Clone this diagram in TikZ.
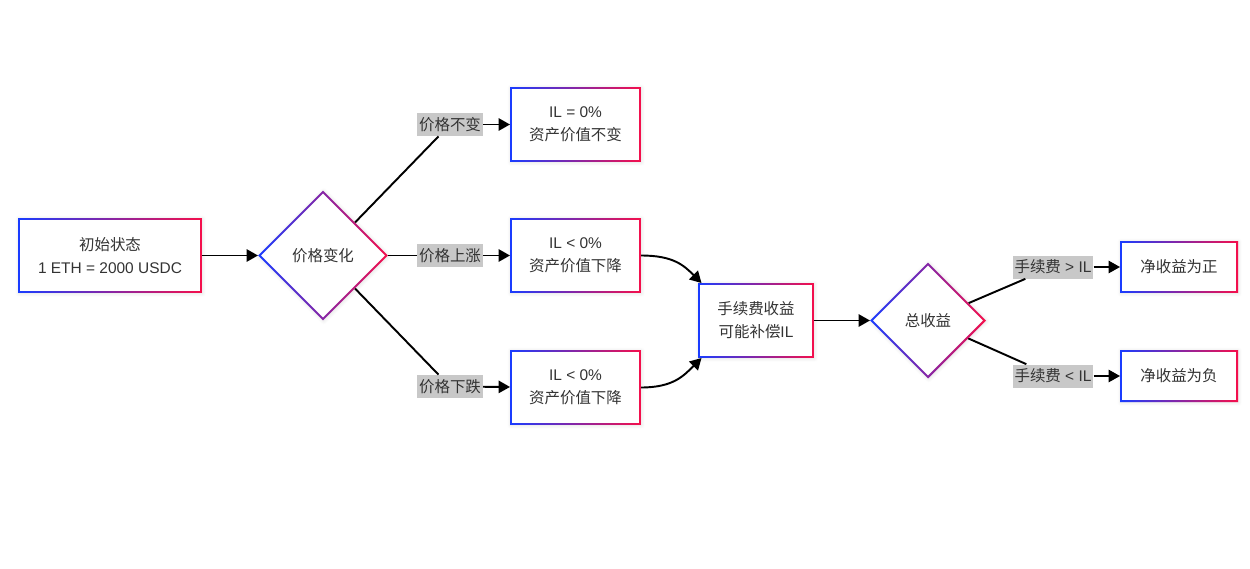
\documentclass[tikz,border=0pt]{standalone}
\usepackage{fontspec}
\setmainfont{Liberation Sans}
\newfontfamily\cjk{Noto Sans CJK SC}
\usepackage{tikz}
\usetikzlibrary{arrows.meta, positioning, shapes.geometric, shadows.blur}

\definecolor{gblue}{RGB}{25,60,255}
\definecolor{gred}{RGB}{245,15,75}
\definecolor{txt}{RGB}{51,51,51}
\definecolor{lblgray}{RGB}{200,200,200}

% gradient borders (blue left, red right)
\newcommand{\gradbox}[1]{%
  \shade[even odd rule, left color=gblue, right color=gred]
    (#1.south west) rectangle (#1.north east)
    ([shift={(1.1pt,1.1pt)}]#1.south west) rectangle ([shift={(-1.1pt,-1.1pt)}]#1.north east);}
\newcommand{\graddiamond}[1]{%
  \shade[even odd rule, left color=gblue, right color=gred]
    (#1.west) -- (#1.north) -- (#1.east) -- (#1.south) -- cycle
    ([xshift=1.6pt]#1.west) -- ([yshift=-1.6pt]#1.north) -- ([xshift=-1.6pt]#1.east) -- ([yshift=1.6pt]#1.south) -- cycle;}

\begin{document}
\begin{tikzpicture}[
    x=0.02cm, y=-0.02cm,
    every node/.style={font=\fontsize{8.8pt}{13pt}\selectfont, text=txt},
    box/.style={rectangle, fill=white, minimum width=2.62cm, minimum height=1.5cm, align=center, outer sep=0pt,
        blur shadow={shadow blur steps=6, shadow xshift=0.4pt, shadow yshift=-0.4pt, shadow opacity=12, shadow blur radius=2pt}},
    decision/.style={diamond, fill=white, aspect=1, minimum width=2.6cm, minimum height=2.6cm, inner sep=0pt, outer sep=0pt,
        blur shadow={shadow blur steps=6, shadow xshift=0.4pt, shadow yshift=-0.4pt, shadow opacity=12, shadow blur radius=2pt}},
    cond/.style={fill=lblgray, inner xsep=1pt, inner ysep=0pt, minimum height=0.46cm},
    arrow/.style={-{Triangle[length=6.5pt, width=7pt]}, line width=1.1pt},
    link/.style={line width=1.1pt}
]
\useasboundingbox (0,0) rectangle (1250,568);

% Start and first decision
\node[box, minimum width=3.68cm] (init) at (110,255.5) {{\cjk 初始状态}\\1 ETH = 2000 USDC};
\node[decision] (change) at (323,255.5) {\cjk 价格变化};

% Price outcomes
\node[box] (flat) at (575.5,124.5) {IL = 0\%\\{\cjk 资产价值不变}};
\node[box] (rise) at (575.5,255.5) {IL < 0\%\\{\cjk 资产价值下降}};
\node[box] (fall) at (575.5,387.5) {IL < 0\%\\{\cjk 资产价值下降}};

% Fees and total
\node[box, minimum width=2.32cm] (fee) at (756,320.5) {{\cjk 手续费收益}\\{\cjk 可能补偿}IL};
\node[decision, minimum width=2.32cm, minimum height=2.32cm] (total) at (928,320.5) {\cjk 总收益};
\node[box, minimum width=2.36cm, minimum height=1.04cm] (pos) at (1179,267) {\cjk 净收益为正};
\node[box, minimum width=2.36cm, minimum height=1.04cm] (neg) at (1179,376) {\cjk 净收益为负};

% Edge labels
\node[cond] (lflat) at (450,124.5) {\cjk 价格不变};
\node[cond] (lrise) at (450,255.5) {\cjk 价格上涨};
\node[cond] (lfall) at (450,386.5) {\cjk 价格下跌};
\node[cond] (lpos) at (1053,267) {{\cjk 手续费} > IL};
\node[cond] (lneg) at (1053,376) {{\cjk 手续费} < IL};

% Connectors
\draw[arrow] (init) -- (change);
\draw[link] (change) -- (lflat);
\draw[link] (change) -- (lrise);
\draw[link] (change) -- (lfall);
\draw[arrow] (lflat) -- (flat);
\draw[arrow] (lrise) -- (rise);
\draw[arrow] (lfall) -- (fall);
\draw[arrow] (rise.east) .. controls +(32,0) and +(-18,-18) .. ([xshift=2pt]fee.north west);
\draw[arrow] (fall.east) .. controls +(32,0) and +(-18,18) .. ([xshift=2pt]fee.south west);
\draw[arrow] (fee) -- (total);
\draw[link] (total) -- (lpos);
\draw[link] (total) -- (lneg);
\draw[arrow] (lpos) -- (pos);
\draw[arrow] (lneg) -- (neg);

% Gradient borders
\foreach \n in {init, flat, rise, fall, fee, pos, neg} {\gradbox{\n}}
\foreach \n in {change, total} {\graddiamond{\n}}

\end{tikzpicture}
\end{document}
